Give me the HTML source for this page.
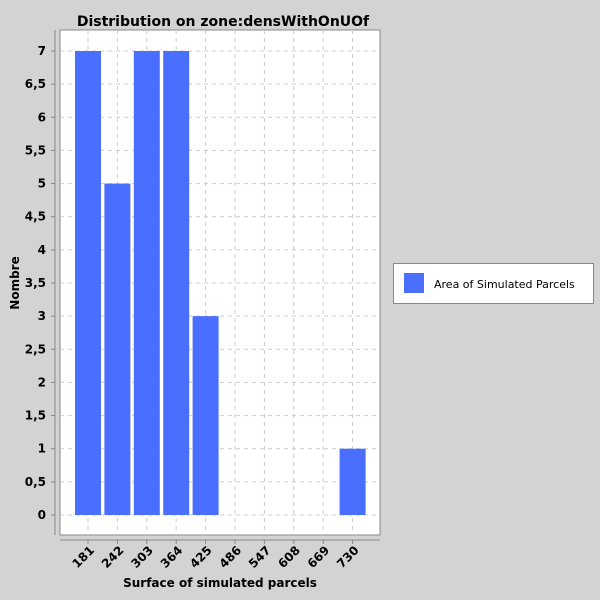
<!DOCTYPE html>
<html><head><meta charset="utf-8"><style>
body{margin:0;background:#d3d3d3;}
svg{display:block;font-family:"DejaVu Sans","Liberation Sans",sans-serif;}
</style></head><body>
<svg width="600" height="600">
<rect width="600" height="600" fill="#d3d3d3"/>
<text x="223" y="26" text-anchor="middle" font-weight="bold" font-size="14">Distribution on zone:densWithOnUOf</text>
<rect x="60" y="30" width="320" height="505" fill="#fff" stroke="#888" stroke-width="1"/>
<g id="grid"></g><g id="bars"></g>
<line x1="55" y1="30" x2="55" y2="535" stroke="#888"/>
<line x1="60" y1="540" x2="380" y2="540" stroke="#888"/>
<g id="yt"></g><g id="xt"></g>
<text x="220" y="587" text-anchor="middle" font-weight="bold" font-size="12">Surface of simulated parcels</text>
<text transform="translate(19,283) rotate(-90)" text-anchor="middle" font-weight="bold" font-size="12">Nombre</text>
<g>
<rect x="393.5" y="263.5" width="200" height="40" fill="#fff" stroke="#888"/>
<rect x="404" y="273" width="20" height="20" fill="#4a6fff"/>
<text x="434" y="288" font-size="11">Area of Simulated Parcels</text>
</g>
</svg>
<script>
const categories=["181","242","303","364","425","486","547","608","669","730"];
const values=[7,5,7,7,3,0,0,0,0,1];
const yTicks=[0,0.5,1,1.5,2,2.5,3,3.5,4,4.5,5,5.5,6,6.5,7];
const NS="http://www.w3.org/2000/svg";
const y=v=>515-v*(464/7);
const x=i=>88+i*29.4;
function mk(t,a,p){const e=document.createElementNS(NS,t);for(const k in a)e.setAttribute(k,a[k]);p.appendChild(e);return e;}
const grid=document.getElementById('grid'),bars=document.getElementById('bars'),yt=document.getElementById('yt'),xt=document.getElementById('xt');
yTicks.forEach(v=>{
 const g=mk('line',{x1:60,x2:380,y1:y(v),y2:y(v),stroke:'#ccc','stroke-dasharray':'4,4'},grid);
 
 
 mk('line',{x1:51,x2:55,y1:y(v),y2:y(v),stroke:'#888'},yt);
 const t=mk('text',{x:46,y:y(v)+4,'text-anchor':'end','font-weight':'bold','font-size':'12'},yt);
 t.textContent=String(v).replace('.',',');
 
 
});
categories.forEach((c,i)=>{
 const g=mk('line',{x1:x(i),x2:x(i),y1:30,y2:535,stroke:'#ccc','stroke-dasharray':'4,4'},grid);
 
 
 if(values[i]>0){
  const b=mk('rect',{x:x(i)-13,y:y(values[i]),width:26,height:y(0)-y(values[i]),fill:'#4a6fff'},bars);
  
  
 }
 mk('line',{x1:x(i),x2:x(i),y1:540,y2:544,stroke:'#888'},xt);
 const t=mk('text',{transform:`translate(${x(i)+7},${551}) rotate(-45)`,'text-anchor':'end','font-weight':'bold','font-size':'12'},xt);
 t.textContent=c;
 
 
});
</script>
</body></html>
